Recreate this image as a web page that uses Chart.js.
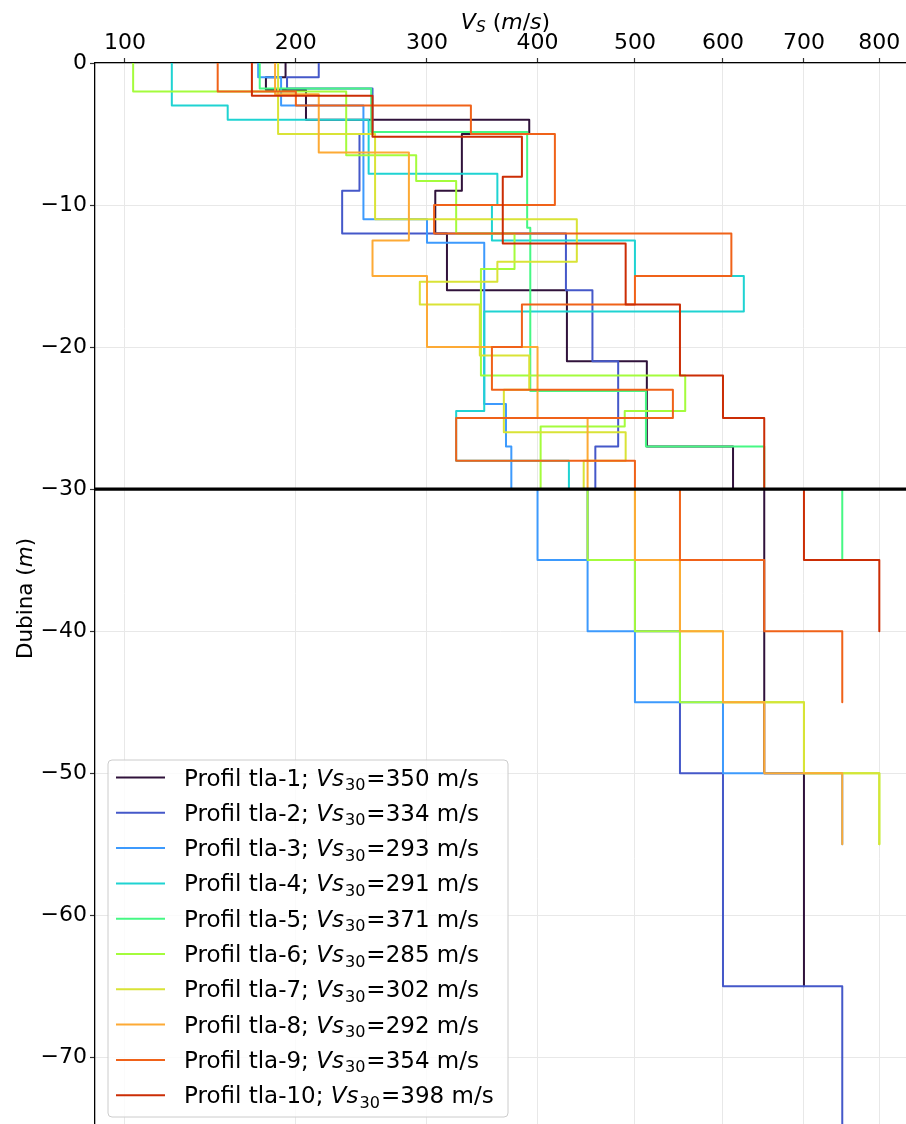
<!DOCTYPE html>
<html>
<head>
<meta charset="utf-8">
<script src="https://cdn.jsdelivr.net/npm/chart.js@4.4.1/dist/chart.umd.min.js"></script>
<style>
  html, body { margin: 0; padding: 0; background: #ffffff; }
  #wrap { width: 906px; height: 1124px; position: relative; }
</style>
</head>
<body>
<div id="wrap"><canvas id="c"></canvas></div>
<script>
// ---------------- DATA ----------------
const profileLabels = ['Profil tla-1', 'Profil tla-2', 'Profil tla-3', 'Profil tla-4', 'Profil tla-5',
                       'Profil tla-6', 'Profil tla-7', 'Profil tla-8', 'Profil tla-9', 'Profil tla-10'];
const vs30Values = [350, 334, 293, 291, 371, 285, 302, 292, 354, 398];
const xTickValues = [100, 200, 300, 400, 500, 600, 700, 800];
const yTickValues = [-70, -60, -50, -40, -30, -20, -10, 0];
const referenceDepth = 30;

// layer boundaries (m) and shear-wave velocity per layer (m/s)
const tla1Depth = [0, 1, 1.9, 4, 5, 9, 12, 16, 21, 27, 30, 50, 65];
const tla1Vs    = [193, 180, 207, 392, 330, 307, 317, 429, 513, 612, 650, 700];

const tla2Depth = [0, 1, 1.8, 5, 9, 12, 16, 21, 27, 30, 35, 40, 50, 65, 80];
const tla2Vs    = [216, 194, 256, 246, 233, 428, 455, 482, 458, 450, 500, 550, 600, 750];

const tla3Depth = [0, 1, 3, 11, 12.65, 24, 27, 30, 35, 40, 45, 50, 55];
const tla3Vs    = [175, 190, 249, 300, 350, 370, 375, 400, 450, 500, 600, 750];

const tla4Depth = [0, 3, 4, 7.8, 10, 12.5, 15, 17.5, 24.5, 28, 30];
const tla4Vs    = [124, 156, 253, 362, 357, 500, 625, 350, 325, 431];

const tla5Depth = [0, 1.8, 4.85, 11.6, 23.1, 27, 30, 35];
const tla5Vs    = [176, 255, 390, 393, 512, 650, 750];

const tla6Depth = [0, 2, 6.5, 8.3, 12, 14.5, 22, 24.5, 25.6, 30, 35, 40, 45, 50, 55];
const tla6Vs    = [104, 236, 291, 325, 378, 347, 556, 489, 403, 450, 500, 550, 700, 800];

const tla7Depth = [0, 5, 11, 14, 15.4, 17, 20.6, 23, 26, 28, 30, 35, 40, 45, 50, 55];
const tla7Vs    = [188, 258, 439, 362, 294, 346, 392, 368, 490, 446, 500, 550, 600, 700, 800];

const tla8Depth = [0, 2.2, 6.3, 12.5, 15, 20, 25, 30, 35, 40, 45, 50, 55];
const tla8Vs    = [186, 216, 285, 256, 300, 400, 450, 500, 550, 600, 650, 750];

const tla9Depth = [0, 2, 3, 5, 10, 12, 15, 17, 20, 23, 25, 28, 30, 35, 40, 45];
const tla9Vs    = [150, 200, 338, 417, 306, 610, 500, 385, 357, 542, 325, 500, 550, 650, 750];

const tla10Depth = [0, 2.3, 5.2, 8, 12.7, 17, 22, 25, 30, 35, 40];
const tla10Vs    = [171, 256, 385, 367, 490, 550, 600, 650, 700, 800];

// ---------------- STYLE ----------------
const profileColors = ['#30123b', '#4558c9', '#3d9afd', '#1fd3d2', '#46f884',
                       '#a4fc3c', '#d9e336', '#fdaa35', '#f06219', '#cb2d05'];
const FONT = "'DejaVu Sans', 'Noto Sans', sans-serif";
Chart.defaults.font.family = FONT;

// ---------------- SQRT SCALE ----------------
class SqrtScale extends Chart.LinearScale {
  configure() {
    super.configure();
    this._sqMin = Math.sqrt(Math.max(this.min, 0));
    this._sqRange = (Math.sqrt(Math.max(this.max, 0)) - this._sqMin) || 1;
  }
  getPixelForValue(value) {
    return this.getPixelForDecimal((Math.sqrt(Math.max(value, 0)) - this._sqMin) / this._sqRange);
  }
  getValueForPixel(pixel) {
    const s = this._sqMin + this.getDecimalForPixel(pixel) * this._sqRange;
    return s * s;
  }
}
SqrtScale.id = 'sqrt';
SqrtScale.defaults = Chart.LinearScale.defaults;
Chart.register(SqrtScale);

// ---------------- BUILD DATASETS ----------------
const profiles = [
  [tla1Depth, tla1Vs], [tla2Depth, tla2Vs], [tla3Depth, tla3Vs], [tla4Depth, tla4Vs], [tla5Depth, tla5Vs],
  [tla6Depth, tla6Vs], [tla7Depth, tla7Vs], [tla8Depth, tla8Vs], [tla9Depth, tla9Vs], [tla10Depth, tla10Vs]
];
function stepPoints(depth, vs) {
  const pts = [];
  vs.forEach((v, i) => {
    pts.push({ x: v, y: -depth[i] });
    pts.push({ x: v, y: -depth[i + 1] });
  });
  return pts;
}
const datasets = profiles.map(([d, v], i) => ({
  label: profileLabels[i],
  data: stepPoints(d, v),
  borderColor: profileColors[i],
  backgroundColor: profileColors[i],
  borderWidth: 2,
  pointRadius: 0,
  pointHoverRadius: 0,
  fill: false,
  tension: 0,
  borderJoinStyle: 'round',
  order: profiles.length - i
}));

// ---------------- RICH TEXT HELPERS ----------------
function segFont(s) {
  return (s.italic ? 'italic ' : '') + s.size + 'px ' + FONT;
}
function richWidth(ctx, segs) {
  let w = 0;
  segs.forEach(s => { ctx.font = segFont(s); w += ctx.measureText(s.text).width + (s.gap || 0); });
  return w;
}
function drawRich(ctx, segs, x, y, align) {
  let cx = x;
  if (align === 'center') cx = x - richWidth(ctx, segs) / 2;
  ctx.textBaseline = 'alphabetic';
  ctx.textAlign = 'left';
  segs.forEach(s => {
    ctx.font = segFont(s);
    ctx.fillText(s.text, cx, y + (s.dy || 0));
    cx += ctx.measureText(s.text).width + (s.gap || 0);
  });
}

// ---------------- PLUGINS ----------------
const refLinePlugin = {
  id: 'refLine',
  afterDatasetsDraw(chart) {
    const { ctx, chartArea: a, scales: { y } } = chart;
    const py = y.getPixelForValue(-referenceDepth);
    ctx.save();
    ctx.strokeStyle = '#000';
    ctx.lineWidth = 3.4;
    ctx.beginPath();
    ctx.moveTo(a.left, py);
    ctx.lineTo(a.right, py);
    ctx.stroke();
    ctx.restore();
  }
};

const titlesPlugin = {
  id: 'richTitles',
  afterDraw(chart) {
    const { ctx, chartArea: a } = chart;
    ctx.save();
    ctx.fillStyle = '#000';
    const xt = [
      { text: 'V', italic: true, size: 22 },
      { text: 'S', italic: true, size: 15.4, dy: 3 },
      { text: ' (', size: 22 },
      { text: 'm', italic: true, size: 22 },
      { text: '/', size: 22 },
      { text: 's', italic: true, size: 22 },
      { text: ')', size: 22 }
    ];
    drawRich(ctx, xt, (a.left + a.right) / 2 + 5, 29, 'center');
    ctx.translate(32, (a.top + a.bottom) / 2 + 5);
    ctx.rotate(-Math.PI / 2);
    const yt = [
      { text: 'Dubina (', size: 21.5 },
      { text: 'm', italic: true, size: 21.5 },
      { text: ')', size: 21.5 }
    ];
    drawRich(ctx, yt, 0, 0, 'center');
    ctx.restore();
  }
};

const legendPlugin = {
  id: 'richLegend',
  afterDraw(chart) {
    const { ctx, chartArea: a } = chart;
    const boxL = a.left + 13, boxW = 400, boxH = 357;
    const boxB = a.bottom - 7, boxT = boxB - boxH;
    const r = 4;
    ctx.save();
    ctx.beginPath();
    ctx.moveTo(boxL + r, boxT);
    ctx.lineTo(boxL + boxW - r, boxT);
    ctx.arcTo(boxL + boxW, boxT, boxL + boxW, boxT + r, r);
    ctx.lineTo(boxL + boxW, boxB - r);
    ctx.arcTo(boxL + boxW, boxB, boxL + boxW - r, boxB, r);
    ctx.lineTo(boxL + r, boxB);
    ctx.arcTo(boxL, boxB, boxL, boxB - r, r);
    ctx.lineTo(boxL, boxT + r);
    ctx.arcTo(boxL, boxT, boxL + r, boxT, r);
    ctx.closePath();
    ctx.fillStyle = 'rgba(255,255,255,0.8)';
    ctx.fill();
    ctx.strokeStyle = '#cccccc';
    ctx.lineWidth = 1;
    ctx.stroke();

    const rowH = 35.3;
    profileLabels.forEach((lab, i) => {
      const cy = boxT + 17.5 + i * rowH;
      ctx.strokeStyle = profileColors[i];
      ctx.lineWidth = 2;
      ctx.beginPath();
      ctx.moveTo(boxL + 8, cy);
      ctx.lineTo(boxL + 57, cy);
      ctx.stroke();
      ctx.fillStyle = '#000';
      const segs = [
        { text: lab + '; ', size: 23 },
        { text: 'Vs', italic: true, size: 23, gap: 1 },
        { text: '30', size: 16.1, dy: 4.5, gap: 1 },
        { text: '=' + vs30Values[i] + ' m/s', size: 23 }
      ];
      drawRich(ctx, segs, boxL + 76, cy + 8, 'left');
    });
    ctx.restore();
  }
};

// ---------------- CHART ----------------
const fmtY = v => (v < 0 ? '\u2212' + Math.abs(v) : String(v));

new Chart(document.getElementById('c'), {
  type: 'line',
  data: { datasets },
  options: {
    responsive: true,
    maintainAspectRatio: false,
    animation: false,
    events: [],
    layout: { padding: 0 },
    plugins: { legend: { display: false }, tooltip: { enabled: false }, title: { display: false } },
    scales: {
      x: {
        type: 'sqrt',
        position: 'top',
        min: 86,
        max: 837,
        bounds: 'data',
        afterBuildTicks: s => { s.ticks = xTickValues.map(v => ({ value: v })); },
        afterFit: s => { s.height = 63; s.paddingLeft = 0; s.paddingRight = 0; },
        ticks: { autoSkip: false, maxRotation: 0, minRotation: 0, color: '#000', font: { size: 22 }, padding: 2,
                 callback: v => String(v) },
        grid: { color: '#e8e8e8', lineWidth: 1, drawTicks: true, tickLength: 5, tickColor: '#333', tickWidth: 1.2 },
        border: { display: true, color: '#000', width: 1.3 }
      },
      y: {
        type: 'linear',
        position: 'left',
        min: -74.7,
        max: 0,
        afterBuildTicks: s => { s.ticks = yTickValues.map(v => ({ value: v })); },
        afterFit: s => { s.width = 95; s.paddingTop = 0; s.paddingBottom = 0; },
        ticks: { autoSkip: false, color: '#000', font: { size: 22 }, padding: 3, callback: v => fmtY(v) },
        grid: { color: '#e8e8e8', lineWidth: 1, drawTicks: true, tickLength: 5, tickColor: '#333', tickWidth: 1.2 },
        border: { display: true, color: '#000', width: 1.3 }
      }
    }
  },
  plugins: [refLinePlugin, titlesPlugin, legendPlugin]
});
</script>
</body>
</html>
